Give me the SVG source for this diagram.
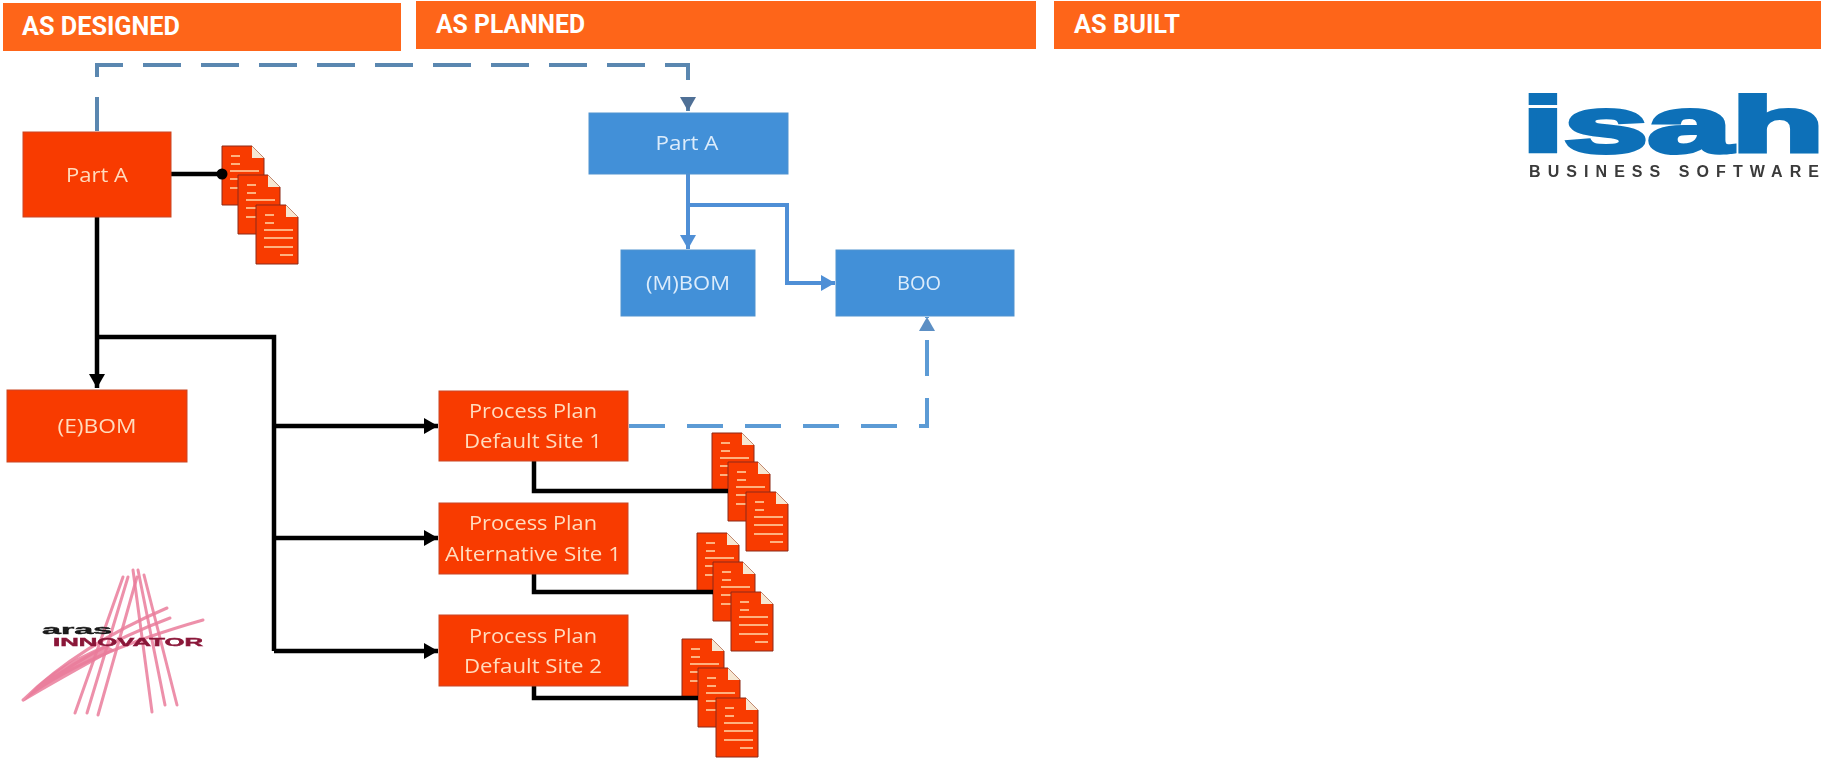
<svg xmlns="http://www.w3.org/2000/svg" width="1821" height="760" viewBox="0 0 1821 760">
<style>
.hdr{fill:#fe6519}
.ht{font-family:"Roboto","Liberation Sans",sans-serif;font-weight:700;font-size:25px;fill:#fff}
.red{fill:#f83a06;stroke:#c9481f;stroke-width:1}
.blue{fill:#4290d8;stroke:#4f93d0;stroke-width:1}
.nt{font-family:"Open Sans","Liberation Sans",sans-serif;font-size:20px;text-anchor:middle}
.rt{fill:#ffdcbc}
.bt{fill:#dcecfb}
.k{fill:none;stroke:#000;stroke-width:4.5}
.bl{fill:none;stroke:#4f8fd6;stroke-width:4}
.d1{fill:none;stroke:#5a87b0;stroke-width:4;stroke-dasharray:38 20;stroke-dashoffset:4}
.d2{fill:none;stroke:#5b9bd5;stroke-width:4;stroke-dasharray:36 22}
.a{fill:none;stroke:#ea7d9b;stroke-width:3;stroke-linecap:round;opacity:.85}
</style>
<defs>
<filter id="soft" x="-2%" y="-2%" width="104%" height="104%"><feGaussianBlur stdDeviation="0.7"/></filter>
<marker id="ak" markerUnits="userSpaceOnUse" markerWidth="15" markerHeight="16" refX="14" refY="8" orient="auto"><path d="M0 0L14 8L0 16Z" fill="#000"/></marker>
<marker id="ab" markerUnits="userSpaceOnUse" markerWidth="15" markerHeight="16" refX="14" refY="8" orient="auto"><path d="M0 0L14 8L0 16Z" fill="#4f8fd6"/></marker>
<marker id="ag" markerUnits="userSpaceOnUse" markerWidth="15" markerHeight="16" refX="14" refY="8" orient="auto"><path d="M0 0L14 8L0 16Z" fill="#4f6f96"/></marker>
<marker id="ad" markerUnits="userSpaceOnUse" markerWidth="15" markerHeight="16" refX="14" refY="8" orient="auto"><path d="M0 0L14 8L0 16Z" fill="#5b8fc4"/></marker>
<g id="doc">
<path d="M0 0H30L42 12V59H0Z" fill="#f83a06" stroke="#8c2a10" stroke-width="1"/>
<path d="M30 0L42 12H30Z" fill="#f6e7d2"/>
<path d="M9 10H18M9 18H18M8 25H37M8 33H37M8 42H37M24 50H37" stroke="#ffd9a8" stroke-width="1.6" fill="none"/>
</g>
<g id="stack">
<use href="#doc"/><use href="#doc" x="16" y="29"/><use href="#doc" x="34" y="59"/>
</g>
</defs>
<rect width="1821" height="760" fill="#fff"/>
<g id="header-designed"><rect class="hdr" x="3" y="3" width="398" height="48"/><text class="ht" x="22" y="35" textLength="158" lengthAdjust="spacingAndGlyphs">AS DESIGNED</text></g>
<g id="header-planned"><rect class="hdr" x="416" y="1" width="620" height="48"/><text class="ht" x="436" y="33" textLength="149" lengthAdjust="spacingAndGlyphs">AS PLANNED</text></g>
<g id="header-built"><rect class="hdr" x="1054" y="1" width="767" height="48"/><text class="ht" x="1074" y="33" textLength="106" lengthAdjust="spacingAndGlyphs">AS BUILT</text></g>
<g filter="url(#soft)">
<g id="docs-part-a"><use href="#stack" x="222" y="146"/></g>
<g id="docs-pp1"><use href="#stack" x="712" y="433"/></g>
<g id="docs-pp2"><use href="#stack" x="697" y="533"/></g>
<g id="docs-pp3"><use href="#stack" x="682" y="639"/></g>
<g id="connectors">
<path class="d1" d="M97 131V65H688V111" marker-end="url(#ag)"/>
<path class="k" d="M97 216V388" marker-end="url(#ak)"/>
<path class="k" d="M97 337H274V651"/>
<path class="k" d="M274 426H438" marker-end="url(#ak)"/>
<path class="k" d="M274 538H438" marker-end="url(#ak)"/>
<path class="k" d="M274 651H438" marker-end="url(#ak)"/>
<path class="k" d="M171 174H222"/>
<circle cx="222" cy="174" r="5.5" fill="#000"/>
<path class="k" d="M534 461V491H728"/>
<path class="k" d="M534 574V592H713"/>
<path class="k" d="M534 686V698H698"/>
<path class="bl" d="M688 174V249" marker-end="url(#ab)"/>
<path class="bl" d="M688 205H787V283H835" marker-end="url(#ab)"/>
<path class="d2" d="M629 426H927V317" marker-end="url(#ad)"/>
</g>
<g id="node-part-a-designed"><rect class="red" x="23" y="132" width="148" height="85"/><text class="nt rt" x="97" y="182" textLength="62" lengthAdjust="spacingAndGlyphs">Part A</text></g>
<g id="node-ebom"><rect class="red" x="7" y="390" width="180" height="72"/><text class="nt rt" x="97" y="433" textLength="79" lengthAdjust="spacingAndGlyphs">(E)BOM</text></g>
<g id="node-pp1"><rect class="red" x="439" y="391" width="189" height="70"/><text class="nt rt" x="533" y="418" textLength="128" lengthAdjust="spacingAndGlyphs">Process Plan</text><text class="nt rt" x="533" y="448" textLength="138" lengthAdjust="spacingAndGlyphs">Default Site 1</text></g>
<g id="node-pp2"><rect class="red" x="439" y="503" width="189" height="71"/><text class="nt rt" x="533" y="530" textLength="128" lengthAdjust="spacingAndGlyphs">Process Plan</text><text class="nt rt" x="533" y="561" textLength="176" lengthAdjust="spacingAndGlyphs">Alternative Site 1</text></g>
<g id="node-pp3"><rect class="red" x="439" y="615" width="189" height="71"/><text class="nt rt" x="533" y="643" textLength="128" lengthAdjust="spacingAndGlyphs">Process Plan</text><text class="nt rt" x="533" y="673" textLength="138" lengthAdjust="spacingAndGlyphs">Default Site 2</text></g>
<g id="node-part-a-planned"><rect class="blue" x="589" y="113" width="199" height="61"/><text class="nt bt" x="687" y="150" textLength="63" lengthAdjust="spacingAndGlyphs">Part A</text></g>
<g id="node-mbom"><rect class="blue" x="621" y="250" width="134" height="66"/><text class="nt bt" x="688" y="290" textLength="84" lengthAdjust="spacingAndGlyphs">(M)BOM</text></g>
<g id="node-boo"><rect class="blue" x="836" y="250" width="178" height="66"/><text class="nt bt" x="919" y="290" textLength="44" lengthAdjust="spacingAndGlyphs" font-size="20">BOO</text></g>
<g id="logo-aras">
<path class="a" d="M133 570L152 712M138 570L165 705M144 575L177 705"/>
<path class="a" d="M123 577L75 713M128 577L87 713M137 577L98 715"/>
<path class="a" d="M23 700Q80 655 203 620M23 700Q85 650 170 618M23 700Q80 645 167 608"/>
<path d="M23 702Q45 670 105 645L115 650Q60 680 23 702Z" fill="#ea7d9b" opacity=".85"/>
<text x="42" y="634" textLength="70" lengthAdjust="spacingAndGlyphs" font-family="Liberation Sans, sans-serif" font-weight="700" font-size="12" fill="#1a1a1a" stroke="#1a1a1a" stroke-width=".4">aras</text>
<text x="53" y="646" textLength="150" lengthAdjust="spacingAndGlyphs" font-family="Liberation Sans, sans-serif" font-weight="700" font-size="11" fill="#8a1538" stroke="#8a1538" stroke-width=".4">INNOVATOR</text>
</g>
<g id="logo-isah">
<text x="1522" y="152" textLength="302" lengthAdjust="spacingAndGlyphs" font-family="Liberation Sans, sans-serif" font-weight="700" font-size="78" fill="#0a70b8" stroke="#0a70b8" stroke-width="4">isah</text>
<text x="1529" y="177" textLength="290" lengthAdjust="spacing" font-family="Liberation Sans, sans-serif" font-weight="700" font-size="16" fill="#3a3a3a">BUSINESS SOFTWARE</text>
</g>
</g>
</svg>
